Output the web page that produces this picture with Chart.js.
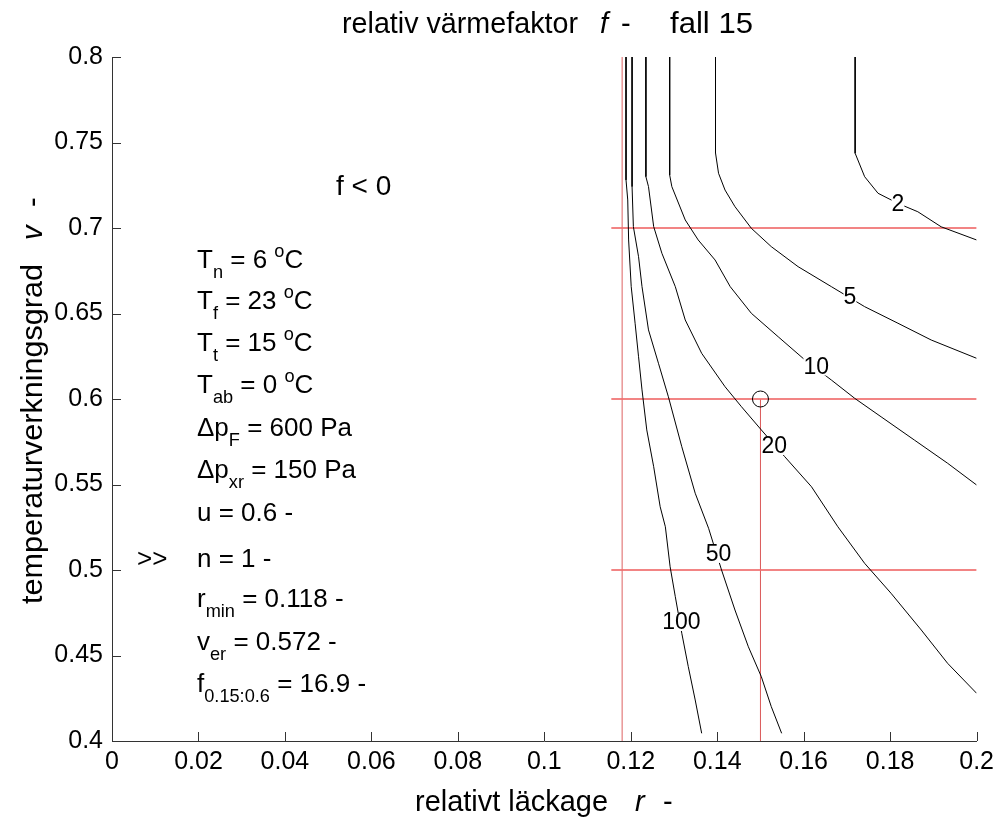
<!DOCTYPE html>
<html>
<head>
<meta charset="utf-8">
<script src="https://cdn.jsdelivr.net/npm/chart.js@4.4.1/dist/chart.umd.min.js"></script>
<style>
  html, body { margin: 0; padding: 0; background: #fff; }
  canvas { display: block; }
</style>
</head>
<body>
<canvas id="chart" width="1000" height="821"></canvas>
<script>
// tick labels
var xTicks = [0, 0.02, 0.04, 0.06, 0.08, 0.1, 0.12, 0.14, 0.16, 0.18, 0.2];
var yTicks = [0.4, 0.45, 0.5, 0.55, 0.6, 0.65, 0.7, 0.75, 0.8];

// contour lines of f (r = relativt läckage, v = temperaturverkningsgrad)
var levels = ['2', '5', '10', '20', '50', '100'];

var r2 = [0.1719, 0.1719, 0.1741, 0.1772, 0.1818, 0.1864, 0.1918, 0.2];
var v2 = [0.8, 0.7437, 0.7300, 0.7203, 0.7144, 0.7095, 0.7007, 0.6930];

var r5 = [0.1396, 0.1396, 0.1403, 0.1418, 0.1441, 0.1479, 0.1525, 0.1587, 0.1664, 0.1741, 0.1818, 0.1895, 0.2];
var v5 = [0.8, 0.7439, 0.7320, 0.7222, 0.7125, 0.6998, 0.6891, 0.6774, 0.6657, 0.6540, 0.6443, 0.6345, 0.6238];

var r10 = [0.1290, 0.1290, 0.1295, 0.1326, 0.1356, 0.1395, 0.1430, 0.1479, 0.1541, 0.1603, 0.1664, 0.1718, 0.1779, 0.1856, 0.1933, 0.2];
var v10 = [0.8, 0.7310, 0.7242, 0.7047, 0.6930, 0.6813, 0.6657, 0.6501, 0.6364, 0.6228, 0.6111, 0.6004, 0.5896, 0.5760, 0.5624, 0.5497];

var r20 = [0.1235, 0.1235, 0.1241, 0.1253, 0.1272, 0.1303, 0.1326, 0.1364, 0.1418, 0.1456, 0.1502, 0.1556, 0.1618, 0.1679, 0.1741, 0.1802, 0.1872, 0.1933, 0.2];
var v20 = [0.8, 0.7300, 0.7242, 0.7008, 0.6852, 0.6657, 0.6462, 0.6267, 0.6072, 0.5955, 0.5819, 0.5663, 0.5487, 0.5253, 0.5039, 0.4864, 0.4649, 0.4454, 0.4279];

var r50 = [0.1203, 0.1203, 0.1206, 0.1218, 0.1226, 0.1241, 0.1264, 0.1287, 0.1318, 0.1349, 0.1380, 0.1410, 0.1441, 0.1472, 0.1502, 0.1525, 0.1549];
var v50 = [0.8, 0.7242, 0.7008, 0.6832, 0.6657, 0.6404, 0.6209, 0.6013, 0.5721, 0.5449, 0.5244, 0.5000, 0.4766, 0.4551, 0.4376, 0.4201, 0.4045];

var r100 = [0.1189, 0.1189, 0.1193, 0.1195, 0.1201, 0.1210, 0.1218, 0.1226, 0.1237, 0.1253, 0.1268, 0.1280, 0.1291, 0.1303, 0.1318, 0.1333, 0.1349, 0.1364];
var v100 = [0.8, 0.7281, 0.7164, 0.6930, 0.6657, 0.6443, 0.6247, 0.6053, 0.5819, 0.5604, 0.5370, 0.5253, 0.5019, 0.4844, 0.4630, 0.4435, 0.4240, 0.4045];

// where the contour labels sit
var labelR = [0.1818, 0.1707, 0.1629, 0.1532, 0.1403, 0.1317];
var labelV = [0.714, 0.660, 0.619, 0.5725, 0.5094, 0.4696];

// reference lines and the marked point
var vRef = [0.7, 0.6, 0.5];
var rRefStart = 0.1155;
var rMin = 0.118;
var rPoint = 0.15;
var vPoint = 0.6;

var curvesR = [r2, r5, r10, r20, r50, r100];
var curvesV = [v2, v5, v10, v20, v50, v100];

function pts(rs, vs) {
  return rs.map(function(r, i) { return {x: r, y: vs[i]}; });
}

var FONT = '"Liberation Sans", Arial, Helvetica, sans-serif';

var datasets = [];
curvesR.forEach(function(rs, i) {
  datasets.push({
    label: 'f = ' + levels[i],
    data: pts(rs, curvesV[i]),
    showLine: true,
    borderColor: '#000',
    borderWidth: 1,
    pointRadius: 0,
    tension: 0
  });
});
datasets.push({
  label: 'punkt',
  data: [{x: rPoint, y: vPoint}],
  showLine: false,
  pointRadius: 8,
  pointBorderColor: '#000',
  pointBackgroundColor: 'rgba(0,0,0,0)',
  pointBorderWidth: 1
});
vRef.forEach(function(v) {
  datasets.push({
    label: 'v = ' + v,
    data: [{x: rRefStart, y: v}, {x: 0.2, y: v}],
    showLine: true,
    borderColor: 'rgba(240,110,110,0.85)',
    borderWidth: 2,
    pointRadius: 0
  });
});
datasets.push({
  label: 'r min',
  data: [{x: rMin, y: 0.4}, {x: rMin, y: 0.8}],
  showLine: true,
  borderColor: 'rgba(215,70,70,0.85)',
  borderWidth: 1,
  pointRadius: 0
});
datasets.push({
  label: 'r = 0.15',
  data: [{x: rPoint, y: 0.4}, {x: rPoint, y: vPoint}],
  showLine: true,
  borderColor: 'rgba(215,70,70,0.9)',
  borderWidth: 1,
  pointRadius: 0
});

// draws a line of text with sub/superscripts and italics
function rich(ctx, x, y, parts, size) {
  parts.forEach(function(p) {
    var t = p[0], k = p[1] || '';
    var fs = size, dy = 0, style = '';
    if (k === 'sub') { fs = size * 0.7; dy = size * 0.38; }
    if (k === 'sup') { fs = size * 0.7; dy = -size * 0.42; }
    if (k === 'it') { style = 'italic '; }
    ctx.font = style + fs + 'px ' + FONT;
    ctx.fillText(t, x, y + dy);
    x += ctx.measureText(t).width;
  });
}

// text squeezed or stretched to a given width
function fitText(ctx, text, x, y, w, size) {
  ctx.font = size + 'px ' + FONT;
  var m = ctx.measureText(text).width;
  ctx.save();
  ctx.translate(x, y);
  ctx.scale(w / m, 1);
  ctx.fillText(text, 0, 0);
  ctx.restore();
}

var params = [
  [[['T'], ['n', 'sub'], [' = 6 '], ['o', 'sup'], ['C']], 268],
  [[['T'], ['f', 'sub'], [' = 23 '], ['o', 'sup'], ['C']], 309],
  [[['T'], ['t', 'sub'], [' = 15 '], ['o', 'sup'], ['C']], 351],
  [[['T'], ['ab', 'sub'], [' = 0 '], ['o', 'sup'], ['C']], 393],
  [[['\u0394p'], ['F', 'sub'], [' = 600 Pa']], 436],
  [[['\u0394p'], ['xr', 'sub'], [' = 150 Pa']], 478],
  [[['u = 0.6 -']], 521],
  [[['n = 1 -']], 567],
  [[['r'], ['min', 'sub'], [' = 0.118 -']], 607],
  [[['v'], ['er', 'sub'], [' = 0.572 -']], 650],
  [[['f'], ['0.15:0.6', 'sub'], [' = 16.9 -']], 692]
];

var decorations = {
  id: 'decorations',
  afterDatasetsDraw: function(chart) {
    var ctx = chart.ctx, xs = chart.scales.x, ys = chart.scales.y, a = chart.chartArea;
    ctx.save();
    // contour labels
    ctx.font = '23px ' + FONT;
    ctx.textAlign = 'center';
    ctx.textBaseline = 'middle';
    levels.forEach(function(l, i) {
      var px = xs.getPixelForValue(labelR[i]), py = ys.getPixelForValue(labelV[i]);
      var w = ctx.measureText(l).width;
      ctx.fillStyle = '#fff';
      ctx.fillRect(px - w / 2, py - 9, w, 18);
      ctx.fillStyle = '#000';
      ctx.fillText(l, px, py + 1);
    });
    // inward tick marks
    ctx.strokeStyle = '#333';
    ctx.lineWidth = 1;
    ctx.beginPath();
    xTicks.forEach(function(t) {
      var px = Math.round(xs.getPixelForValue(t)) + 0.5;
      ctx.moveTo(px, a.bottom);
      ctx.lineTo(px, a.bottom - 9);
    });
    yTicks.forEach(function(t) {
      var py = Math.round(ys.getPixelForValue(t)) + 0.5;
      ctx.moveTo(a.left, py);
      ctx.lineTo(a.left + 9, py);
    });
    ctx.stroke();
    ctx.restore();
  },
  afterDraw: function(chart) {
    var ctx = chart.ctx;
    ctx.save();
    ctx.fillStyle = '#000';
    ctx.textAlign = 'left';
    ctx.textBaseline = 'alphabetic';
    // title
    fitText(ctx, 'relativ v\u00e4rmefaktor', 342, 33, 236, 29);
    rich(ctx, 600, 33, [['f', 'it']], 29);
    rich(ctx, 621, 33, [['-']], 29);
    fitText(ctx, 'fall 15', 670, 33, 83, 29);
    // x axis title
    fitText(ctx, 'relativt l\u00e4ckage', 415, 811, 193, 29);
    rich(ctx, 635, 811, [['r', 'it']], 29);
    rich(ctx, 663, 811, [['-']], 29);
    // y axis title
    ctx.save();
    ctx.translate(42, 0);
    ctx.rotate(-Math.PI / 2);
    fitText(ctx, 'temperaturverkningsgrad', -604, 0, 340, 29);
    rich(ctx, -240, 0, [['v', 'it']], 29);
    rich(ctx, -207, 0, [['-']], 29);
    ctx.restore();
    // annotations
    rich(ctx, 336, 195, [['f < 0']], 28);
    params.forEach(function(p) { rich(ctx, 197, p[1], p[0], 26); });
    rich(ctx, 137, 567, [['>>']], 26);
    ctx.restore();
  }
};

var Cnvs = document.getElementById('chart');
var chart = new Chart(Cnvs, {
  type: 'scatter',
  data: { datasets: datasets },
  options: {
    responsive: false,
    devicePixelRatio: 1,
    animation: false,
    layout: { padding: { left: 0, top: 57, right: 21, bottom: 0 } },
    plugins: { legend: { display: false }, tooltip: { enabled: false } },
    scales: {
      x: {
        type: 'linear',
        position: 'bottom',
        min: 0,
        max: 0.2,
        grid: { display: false, drawTicks: false },
        border: { display: true, color: '#333', width: 1 },
        afterBuildTicks: function(s) { s.ticks = xTicks.map(function(v) { return {value: v}; }); },
        afterFit: function(s) { s.height = 80; },
        ticks: {
          autoSkip: false, maxRotation: 0, minRotation: 0, padding: 6, color: '#000',
          font: { family: FONT, size: 25 },
          callback: function(v) { return String(+v.toFixed(2)); }
        }
      },
      y: {
        type: 'linear',
        position: 'left',
        min: 0.4,
        max: 0.8,
        grid: { display: false, drawTicks: false },
        border: { display: true, color: '#333', width: 1 },
        afterBuildTicks: function(s) { s.ticks = yTicks.map(function(v) { return {value: v}; }); },
        afterFit: function(s) { s.width = 112; },
        ticks: {
          autoSkip: false, padding: 9, color: '#000',
          font: { family: FONT, size: 25 },
          callback: function(v) { return String(+v.toFixed(2)); }
        }
      }
    }
  },
  plugins: [decorations]
});
</script>
</body>
</html>
